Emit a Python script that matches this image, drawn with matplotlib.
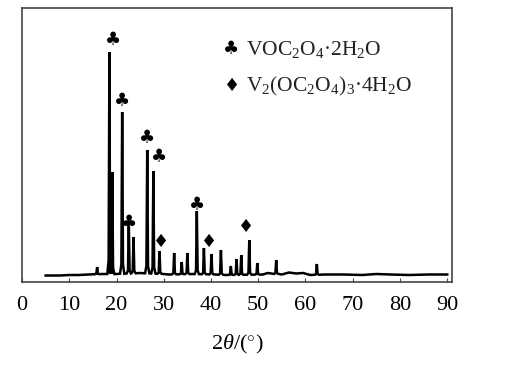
import matplotlib
matplotlib.use('Agg')
import matplotlib.pyplot as plt
import numpy as np

plt.rcParams['font.family'] = ['Liberation Serif', 'DejaVu Serif']
plt.rcParams['mathtext.fontset'] = 'custom'
plt.rcParams['mathtext.rm'] = 'Liberation Serif'
plt.rcParams['mathtext.it'] = 'Liberation Serif:italic'

# XRD peaks: 2theta (deg) and height (a.u.)
peak_pos = [15.9, 18.5, 19.1, 21.2, 22.6, 23.6, 26.5, 27.8, 29.1, 32.2, 33.8,
            35.0, 37.0, 38.5, 40.1, 42.1, 44.2, 45.4, 46.4, 48.1, 49.8, 53.8, 62.4]
peak_int = [15, 230, 110, 170, 60, 45, 132, 111, 31, 29, 20,
            29, 71, 34, 28, 32, 16, 23, 27, 42, 19, 22, 18]

# background points
bg_pos = [5, 8, 10, 12, 14, 17, 20, 25, 30, 31, 36, 41, 43, 51, 52, 55,
          56.5, 58, 59.5, 61, 64, 68, 72, 75, 78, 82, 86, 90]
bg_int = [6.5, 6.5, 7, 7, 7.5, 8, 8, 9, 8, 7.5, 8, 7.5, 7, 7.5, 9, 7.5,
          9.5, 8.5, 9, 7, 7.5, 7.5, 7, 8, 7.5, 7, 7.5, 7.5]

club_pos = [19.2, 21.2, 22.7, 26.5, 29.1, 37.0]
club_h = [242, 181, 59, 144, 125, 77]
diam_pos = [29.35, 39.5, 47.4]
diam_h = [40, 40, 55]

# build polyline: each peak drawn as a narrow spike with a small foot
xs = list(bg_pos)
ys = list(bg_int)
for p, h in zip(peak_pos, peak_int):
    b = np.interp(p, bg_pos, bg_int)
    foot = b + 0.06 * (h - b)
    xs += [p - 0.45, p - 0.17, p, p + 0.17, p + 0.45]
    ys += [b, foot, h, foot, b]
order = np.argsort(xs, kind='stable')
xs = np.array(xs)[order]
ys = np.array(ys)[order]

fig = plt.figure(figsize=(5.18, 3.67), dpi=100)
ax = fig.add_axes([0.0425, 0.2316, 0.830, 0.7466])
ax.plot(xs, ys, color='black', lw=1.8, solid_joinstyle='miter')

sym_font = ['DejaVu Sans']
for p, h in zip(club_pos, club_h):
    ax.text(p, h, '\u2663', ha='center', va='center', fontsize=13, family=sym_font)
for p, h in zip(diam_pos, diam_h):
    ax.text(p, h, '\u2666', ha='center', va='center', fontsize=13, family=sym_font)

# legend
ax.text(44.2, 233, '\u2663', ha='center', va='center', fontsize=13, family=sym_font)
ax.text(47.5, 233, r'VOC$_2$O$_4$·2H$_2$O', ha='left', va='center', fontsize=15.5, color='#222222')
ax.text(44.5, 196, '\u2666', ha='center', va='center', fontsize=13, family=sym_font)
ax.text(47.5, 196, r'V$_2$(OC$_2$O$_4$)$_3$·4H$_2$O', ha='left', va='center', fontsize=15.5,
        color='#222222')

ax.set_xlim(0, 91)
ax.set_ylim(0, 274)
ax.set_xticks(range(0, 91, 10))
ax.set_yticks([])
ax.tick_params(axis='x', direction='in', length=3, pad=10, labelsize=16, color='#444444')
for s in ax.spines.values():
    s.set_color('#444444')
    s.set_linewidth(1.2)
ax.set_xlabel(r'2$\mathit{\theta}$/($^{\circ}$)', fontsize=16, labelpad=13)

fig.savefig('out.png', dpi=100)
